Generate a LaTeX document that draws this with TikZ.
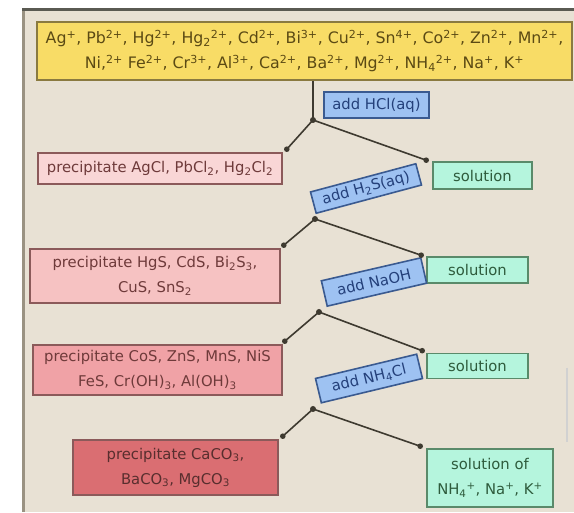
\documentclass[tikz,border=0pt]{standalone}
\usepackage{fontspec}
\setmainfont{DejaVu Sans}
\usetikzlibrary{calc}
\definecolor{panel}{HTML}{E8E1D4}
\definecolor{frametop}{HTML}{5A5A52}
\definecolor{frameleft}{HTML}{9A9282}
\definecolor{yellowfill}{HTML}{F8DC66}
\definecolor{yellowdraw}{HTML}{8A7A40}
\definecolor{yellowtext}{HTML}{5B4A14}
\definecolor{pinkA}{HTML}{F9D6D6}
\definecolor{pinkB}{HTML}{F6C2C2}
\definecolor{pinkC}{HTML}{F0A2A6}
\definecolor{pinkD}{HTML}{DA6E72}
\definecolor{pinkdraw}{HTML}{8B5A5A}
\definecolor{pinktext}{HTML}{6E3A3A}
\definecolor{mintfill}{HTML}{B5F5DD}
\definecolor{mintdraw}{HTML}{5A8A6A}
\definecolor{minttext}{HTML}{2E5B3C}
\definecolor{bluefill}{HTML}{9EC2F2}
\definecolor{bluedraw}{HTML}{3A5A90}
\definecolor{bluetext}{HTML}{24407A}
\definecolor{connector}{HTML}{3E3A30}
\begin{document}
\begin{tikzpicture}[x=1pt,y=-1pt,
  basebox/.style={draw, line width=1.6pt, inner sep=0pt, align=center,
    font=\fontsize{14.8}{25}\selectfont},
  topbox/.style={basebox, fill=yellowfill, draw=yellowdraw, text=yellowtext,
    font=\fontsize{15.8}{25}\selectfont},
  precbox/.style={basebox, draw=pinkdraw, text=pinktext},
  solbox/.style={basebox, fill=mintfill, draw=mintdraw, text=minttext},
  addbox/.style={basebox, fill=bluefill, draw=bluedraw, text=bluetext},
  conn/.style={draw=connector, line width=1.6pt},
  dotfill/.style={fill=connector}]
\useasboundingbox (0,0) rectangle (574,513);
\fill[white] (0,0) rectangle (574,513);
\fill[panel] (22,10) rectangle (574,512);
\draw[frameleft, line width=2.5pt] (23.5,10) -- (23.5,512);
\draw[frametop, line width=3pt] (22,10) -- (574,10);
\draw[black!18, line width=2pt] (567,368) -- (567,442);

% boxes
\node[topbox, minimum width=535pt, minimum height=58pt] (top) at (304.5,51)
  {Ag\textsuperscript{+}, Pb\textsuperscript{2+}, Hg\textsuperscript{2+}, Hg\textsubscript{2}\textsuperscript{2+}, Cd\textsuperscript{2+}, Bi\textsuperscript{3+}, Cu\textsuperscript{2+}, Sn\textsuperscript{4+}, Co\textsuperscript{2+}, Zn\textsuperscript{2+}, Mn\textsuperscript{2+},\\
   Ni,\textsuperscript{2+} Fe\textsuperscript{2+}, Cr\textsuperscript{3+}, Al\textsuperscript{3+}, Ca\textsuperscript{2+}, Ba\textsuperscript{2+}, Mg\textsuperscript{2+}, NH\textsubscript{4}\textsuperscript{2+}, Na\textsuperscript{+}, K\textsuperscript{+}};

\node[addbox, minimum width=105pt, minimum height=26pt] (hcl) at (376.5,105) {add HCl(aq)};

\node[precbox, fill=pinkA, minimum width=244pt, minimum height=31pt] (prec1) at (160,168.5)
  {precipitate AgCl, PbCl\textsubscript{2}, Hg\textsubscript{2}Cl\textsubscript{2}};
\node[solbox, minimum width=99pt, minimum height=27pt] (sol1) at (482.5,175.5) {solution};
\node[addbox, minimum width=109pt, minimum height=22pt, rotate=15] (h2s) at (366,188.5)
  {add H\textsubscript{2}S(aq)};

\node[precbox, fill=pinkB, minimum width=250pt, minimum height=54pt] (prec2) at (155,276)
  {precipitate HgS, CdS, Bi\textsubscript{2}S\textsubscript{3},\\ CuS, SnS\textsubscript{2}};
\node[solbox, minimum width=101pt, minimum height=26pt] (sol2) at (477.5,270) {solution};
\node[addbox, minimum width=102pt, minimum height=26pt, rotate=13] (naoh) at (374,282)
  {add NaOH};

\node[precbox, fill=pinkC, minimum width=249pt, minimum height=50pt] (prec3) at (157.5,370)
  {precipitate CoS, ZnS, MnS, NiS\\ FeS, Cr(OH)\textsubscript{3}, Al(OH)\textsubscript{3}};
\node[solbox, minimum width=101pt, minimum height=25pt] (sol3) at (477.5,366) {solution};
\node[addbox, minimum width=104pt, minimum height=25pt, rotate=13.5] (nh4cl) at (369,378.5)
  {add NH\textsubscript{4}Cl};

\node[precbox, fill=pinkD, text=pinktext!80!black, minimum width=205pt, minimum height=55pt] (prec4) at (175.5,467.5)
  {precipitate CaCO\textsubscript{3},\\ BaCO\textsubscript{3}, MgCO\textsubscript{3}};
\node[solbox, minimum width=126pt, minimum height=58pt] (sol4) at (490,478)
  {solution of\\ NH\textsubscript{4}\textsuperscript{+}, Na\textsuperscript{+}, K\textsuperscript{+}};

% junctions and ends
\coordinate (j1) at (313,120);
\coordinate (j2) at (315,219);
\coordinate (j3) at (319,312);
\coordinate (j4) at (313,409);
\coordinate (p1) at ($(prec1.north east)+(4,-3)$);
\coordinate (s1) at ($(sol1.north west)+(-6,-1)$);
\coordinate (p2) at ($(prec2.north east)+(3,-3)$);
\coordinate (s2) at ($(sol2.north west)+(-5,-1)$);
\coordinate (p3) at ($(prec3.north east)+(2,-3)$);
\coordinate (s3) at ($(sol3.north west)+(-4,-2)$);
\coordinate (p4) at ($(prec4.north east)+(4,-3)$);
\coordinate (s4) at ($(sol4.north west)+(-6,-2)$);

\draw[conn] (top.south -| j1) -- (j1);
\foreach \j/\p/\s in {j1/p1/s1, j2/p2/s2, j3/p3/s3, j4/p4/s4}{
  \draw[conn] (\j) -- (\p);
  \draw[conn] (\j) -- (\s);
  \fill[dotfill] (\j) circle (3pt);
  \fill[dotfill] (\p) circle (2.8pt);
  \fill[dotfill] (\s) circle (2.8pt);
}
\end{tikzpicture}
\end{document}
